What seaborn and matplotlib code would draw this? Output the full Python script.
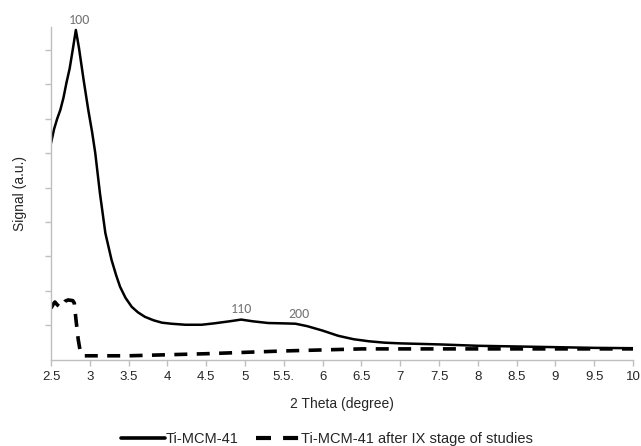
import numpy as np
import pandas as pd
import matplotlib
matplotlib.use("Agg")
import matplotlib.pyplot as plt
from matplotlib.lines import Line2D
import seaborn as sns

# ========== DATOS ==========
x_fresco = [2.50, 2.54, 2.58, 2.62, 2.66, 2.70, 2.74, 2.78, 2.82, 2.86, 2.92,
            2.98, 3.03, 3.07, 3.13, 3.20, 3.28, 3.34, 3.39, 3.46, 3.54, 3.62,
            3.71, 3.82, 3.93, 4.05, 4.23, 4.44, 4.60, 4.80, 4.95, 5.10, 5.30,
            5.50, 5.65, 5.80, 6.00, 6.20, 6.40, 6.60, 6.80, 7.00, 7.50, 8.00,
            8.50, 9.00, 9.50, 10.0]
y_fresco = [6.29, 6.70, 7.00, 7.25, 7.60, 8.05, 8.45, 9.00, 9.57, 9.05, 8.12,
            7.25, 6.60, 6.00, 4.84, 3.68, 2.90, 2.45, 2.12, 1.80, 1.54, 1.38,
            1.25, 1.15, 1.08, 1.05, 1.02, 1.02, 1.06, 1.12, 1.17, 1.12, 1.07,
            1.06, 1.05, 0.98, 0.85, 0.70, 0.60, 0.54, 0.50, 0.48, 0.45, 0.41,
            0.39, 0.37, 0.35, 0.34]

x_usado = [2.50, 2.53, 2.55, 2.58, 2.62, 2.68, 2.72, 2.78, 2.80, 2.82, 2.85,
           2.88, 2.92, 3.00, 3.50, 4.00, 4.50, 5.00, 5.50, 6.00, 6.50, 7.00,
           8.00, 9.00, 10.0]
y_usado = [1.50, 1.62, 1.68, 1.60, 1.52, 1.70, 1.74, 1.72, 1.65, 1.20, 0.60,
           0.20, 0.12, 0.12, 0.12, 0.15, 0.18, 0.22, 0.26, 0.29, 0.32, 0.32,
           0.32, 0.32, 0.32]

ETIQUETAS = ['Ti-MCM-41', 'Ti-MCM-41 after IX stage of studies']
TICKS_X = [2.5, 3, 3.5, 4, 4.5, 5, 5.5, 6, 6.5, 7, 7.5, 8, 8.5, 9, 9.5, 10]
TICKS_X_TXT = ['2.5', '3', '3.5', '4', '4.5', '5', '5.5.', '6', '6.5', '7',
               '7.5', '8', '8.5', '9', '9.5', '10']
PICOS = ['100', '110', '200']
PICOS_X = [2.86, 4.95, 5.70]
PICOS_Y = [9.57, 1.17, 1.05]

df = pd.concat([
    pd.DataFrame({'x': x_fresco, 'y': y_fresco, 'serie': ETIQUETAS[0]}),
    pd.DataFrame({'x': x_usado, 'y': y_usado, 'serie': ETIQUETAS[1]}),
])

# ========== GRAFICA ==========
sns.set_style("white")
plt.rcParams['font.family'] = ['Liberation Sans', 'DejaVu Sans']

fig = plt.figure(figsize=(6.41, 4.46), dpi=100)
ax = fig.add_axes([0.0796, 0.193, 0.908, 0.746])

sns.lineplot(data=df, x='x', y='y', hue='serie', style='serie',
             palette=['black', 'black'],
             dashes={ETIQUETAS[0]: '', ETIQUETAS[1]: (3.6, 2.6)},
             sort=False, estimator=None, ax=ax, legend=False)
ax.lines[0].set_linewidth(1.8)
ax.lines[1].set_linewidth(2.6)

ax.set_xlim(2.5, 10)
ax.set_ylim(0, 9.65)
ax.set_xticks(TICKS_X)
ax.set_xticklabels(TICKS_X_TXT, fontsize=9.5)
ax.set_yticks(range(1, 10))
ax.set_yticklabels([])
ax.tick_params(axis='both', direction='out', length=4, color='#bfbfbf',
               width=1, left=True, bottom=True, pad=4)
for lado in ['top', 'right']:
    ax.spines[lado].set_visible(False)
for lado in ['left', 'bottom']:
    ax.spines[lado].set_color('#bfbfbf')
    ax.spines[lado].set_linewidth(1)

ax.set_xlabel('2 Theta (degree)', fontsize=10, labelpad=10)
ax.set_ylabel('Signal (a.u.)', fontsize=10, labelpad=9)

for txt, px, py in zip(PICOS, PICOS_X, PICOS_Y):
    ax.annotate(txt, (px, py), xytext=(0, 3), textcoords='offset points',
                ha='center', va='bottom', fontsize=10, color='#737373',
                family=['Carlito', 'Liberation Sans', 'DejaVu Sans'],
                annotation_clip=False)

manejadores = [Line2D([], [], color='black', lw=2.6),
               Line2D([], [], color='black', lw=3.0, dashes=(3.6, 2.9))]
fig.legend(manejadores, ETIQUETAS, loc='center', bbox_to_anchor=(0.51, 0.015),
           ncol=2, frameon=False, fontsize=10.5, handlelength=3.0,
           handletextpad=0.05, columnspacing=1.2)

fig.savefig('out.png', dpi=100)
